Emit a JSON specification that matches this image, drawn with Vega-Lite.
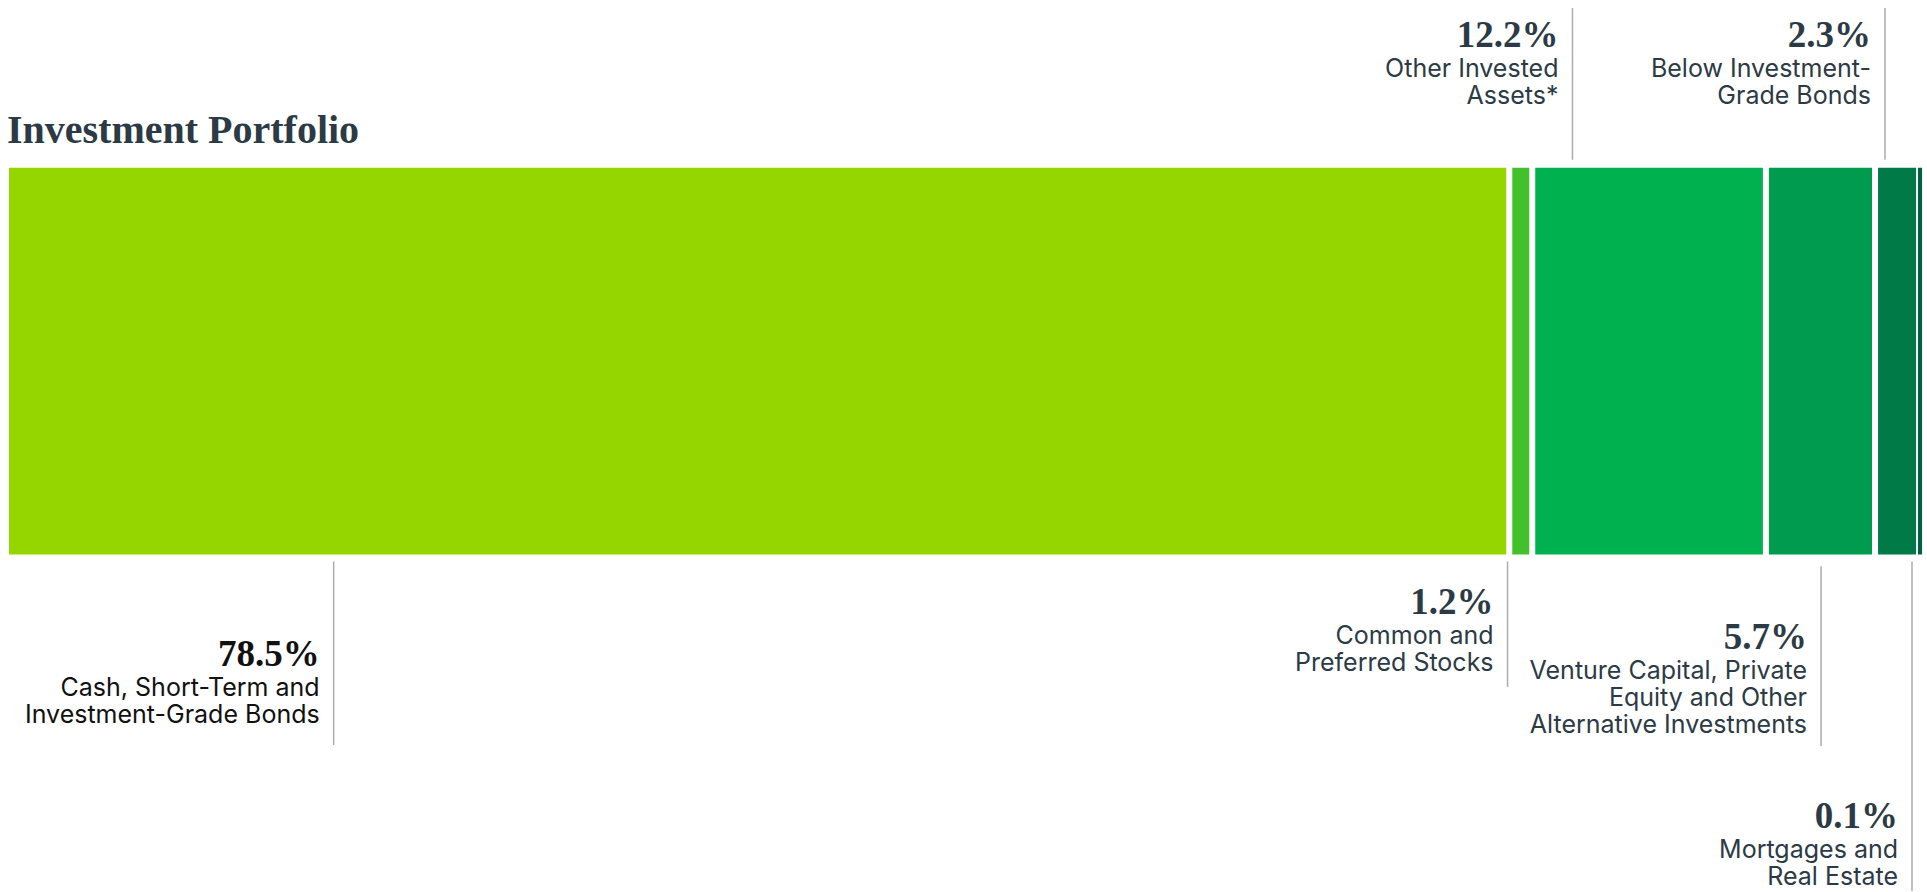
{
  "$schema": "https://vega.github.io/schema/vega-lite/v6.json",
  "width": 1927,
  "height": 892,
  "autosize": {"type": "fit", "contains": "padding"},
  "padding": {"left": 6, "right": 4, "top": 0, "bottom": 0},
  "background": "white",
  "config": {"view": {"stroke": null}},
  "datasets": {
    "portfolio": [
      {"order": 1, "category": "Cash, Short-Term and Investment-Grade Bonds", "value": 78.5, "lines": ["Cash, Short-Term and", "Investment-Grade Bonds"], "anchor": 17.11, "labelLevel": -3.47, "leaderStart": -0.22, "leaderEnd": -5.92},
      {"order": 2, "category": "Common and Preferred Stocks", "value": 1.2, "lines": ["Common and", "Preferred Stocks"], "anchor": 78.41, "labelLevel": -1.86, "leaderStart": -0.22, "leaderEnd": -4.12},
      {"order": 3, "category": "Other Invested Assets*", "value": 12.2, "lines": ["Other Invested", "Assets*"], "anchor": 81.8, "labelLevel": 15.75, "leaderStart": 12.25, "leaderEnd": 16.96},
      {"order": 4, "category": "Venture Capital, Private Equity and Other Alternative Investments", "value": 5.7, "lines": ["Venture Capital, Private", "Equity and Other", "Alternative Investments"], "anchor": 94.78, "labelLevel": -2.95, "leaderStart": -0.37, "leaderEnd": -5.95},
      {"order": 5, "category": "Below Investment-Grade Bonds", "value": 2.3, "lines": ["Below Investment-", "Grade Bonds"], "anchor": 98.12, "labelLevel": 15.75, "leaderStart": 12.25, "leaderEnd": 16.96},
      {"order": 6, "category": "Mortgages and Real Estate", "value": 0.1, "lines": ["Mortgages and", "Real Estate"], "anchor": 99.53, "labelLevel": -8.5, "leaderStart": -0.22, "leaderEnd": -10.45}
    ]
  },
  "data": {"name": "portfolio"},
  "transform": [
    {"stack": "value", "groupby": [], "sort": [{"field": "order", "order": "ascending"}], "as": ["start", "end"]},
    {"calculate": "format(datum.value, '.1f') + '%'", "as": "pct"}
  ],
  "layer": [
    {
      "mark": {"type": "bar", "xOffset": 3, "x2Offset": -3},
      "encoding": {
        "x": {"field": "start", "type": "quantitative", "scale": {"domain": [0, 100], "nice": false, "zero": false}, "axis": null},
        "x2": {"field": "end"},
        "y": {"datum": 0, "type": "quantitative", "scale": {"domain": [-10.45, 17.21], "nice": false, "zero": false}, "axis": null},
        "y2": {"datum": 12},
        "color": {
          "field": "category",
          "type": "nominal",
          "scale": {
            "domain": ["Cash, Short-Term and Investment-Grade Bonds", "Common and Preferred Stocks", "Other Invested Assets*", "Venture Capital, Private Equity and Other Alternative Investments", "Below Investment-Grade Bonds", "Mortgages and Real Estate"],
            "range": ["#95d500", "#43c12b", "#00b14f", "#009b4e", "#007b47", "#00633f"]
          },
          "legend": null
        }
      }
    },
    {
      "mark": {"type": "rule", "color": "#a9adb1", "strokeWidth": 1.5},
      "encoding": {
        "x": {"field": "anchor", "type": "quantitative"},
        "y": {"field": "leaderStart", "type": "quantitative"},
        "y2": {"field": "leaderEnd"}
      }
    },
    {
      "mark": {"type": "text", "align": "right", "baseline": "alphabetic", "dx": -14, "font": "Liberation Serif", "fontWeight": "bold", "fontSize": 37},
      "encoding": {
        "x": {"field": "anchor", "type": "quantitative"},
        "y": {"field": "labelLevel", "type": "quantitative"},
        "text": {"field": "pct"},
        "color": {"condition": {"test": "datum.value === 78.5", "value": "#111111"}, "value": "#2c3a45"}
      }
    },
    {
      "mark": {"type": "text", "align": "right", "baseline": "alphabetic", "dx": -14, "dy": 30, "font": "Inter", "fontSize": 25, "lineHeight": 27},
      "encoding": {
        "x": {"field": "anchor", "type": "quantitative"},
        "y": {"field": "labelLevel", "type": "quantitative"},
        "text": {"field": "lines"},
        "color": {"condition": {"test": "datum.value === 78.5", "value": "#111111"}, "value": "#2c3a45"}
      }
    },
    {
      "data": {"values": [{"title": "Investment Portfolio"}]},
      "mark": {"type": "text", "align": "left", "baseline": "alphabetic", "font": "Liberation Serif", "fontWeight": "bold", "fontSize": 40, "color": "#2c3a45"},
      "encoding": {
        "x": {"datum": 0.05, "type": "quantitative"},
        "y": {"datum": 12.78, "type": "quantitative"},
        "text": {"field": "title"}
      }
    }
  ]
}
